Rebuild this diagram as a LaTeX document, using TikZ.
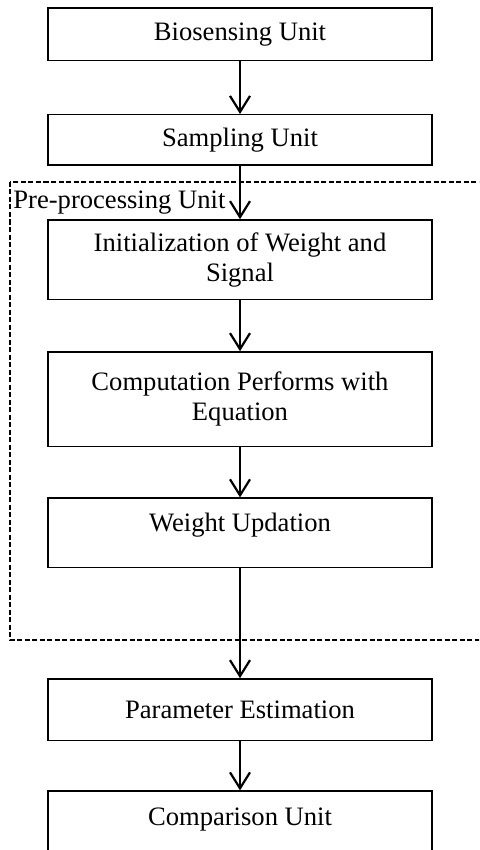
\documentclass[tikz,border=0pt]{standalone}
\usepackage{fontspec}
\setmainfont{Liberation Serif}
\usetikzlibrary{arrows.meta,positioning}
\tikzset{unit/.style={draw,line width=0.75pt,minimum width=192pt,align=center,inner sep=2pt},flow/.style={-{Straight Barb[length=8pt,width=10pt]},line width=1.1pt},frame/.style={draw,line width=0.9pt,dash pattern=on 2.5pt off 1.25pt}}

\begin{document}
\begin{tikzpicture}[node distance=25.5pt,
    font=\fontsize{13.3}{15}\selectfont]
\useasboundingbox (0,0) rectangle (239.5pt,-425pt);
\clip (0,0) rectangle (239.5pt,-425pt);

% sensing and sampling
\node[unit, minimum height=26.25pt] (bio) at (120pt,-17.25pt) {Biosensing Unit};
\node[unit, minimum height=25.25pt, below=26.25pt of bio] (samp) {Sampling Unit};

% pre-processing steps
\node[unit, minimum height=39.75pt, below=26.6pt of samp] (init) {Initialization of Weight and\\Signal};
\node[unit, minimum height=47.25pt, below=of init] (comp) {Computation Performs with\\Equation};
\node[unit, inner ysep=0pt, text height=16.5pt, text depth=18.25pt, below=25.1pt of comp] (upd) {Weight Updation};

% estimation and comparison
\node[unit, minimum height=30.75pt, below=54.9pt of upd] (est) {Parameter Estimation};
\node[unit, inner ysep=0pt, text height=17pt, text depth=30pt, below=24.6pt of est] (cmp) {Comparison Unit};

% dashed block round the pre-processing steps
\coordinate (fnw) at (5pt,-91pt);
\coordinate (fse) at (245pt,-320pt);
\draw[frame] (fnw) rectangle (fse);
\node[anchor=base west, inner sep=0pt] (pre) at ([shift={(1.5pt,-13.5pt)}]fnw) {Pre-processing Unit};

% arrows
\draw[flow] (bio) -- (samp);
\draw[flow] (samp) -- (init);
\draw[flow] (init) -- (comp);
\draw[flow] (comp) -- (upd);
\draw[flow] (upd) -- (est);
\draw[flow] (est) -- (cmp);
\end{tikzpicture}
\end{document}
